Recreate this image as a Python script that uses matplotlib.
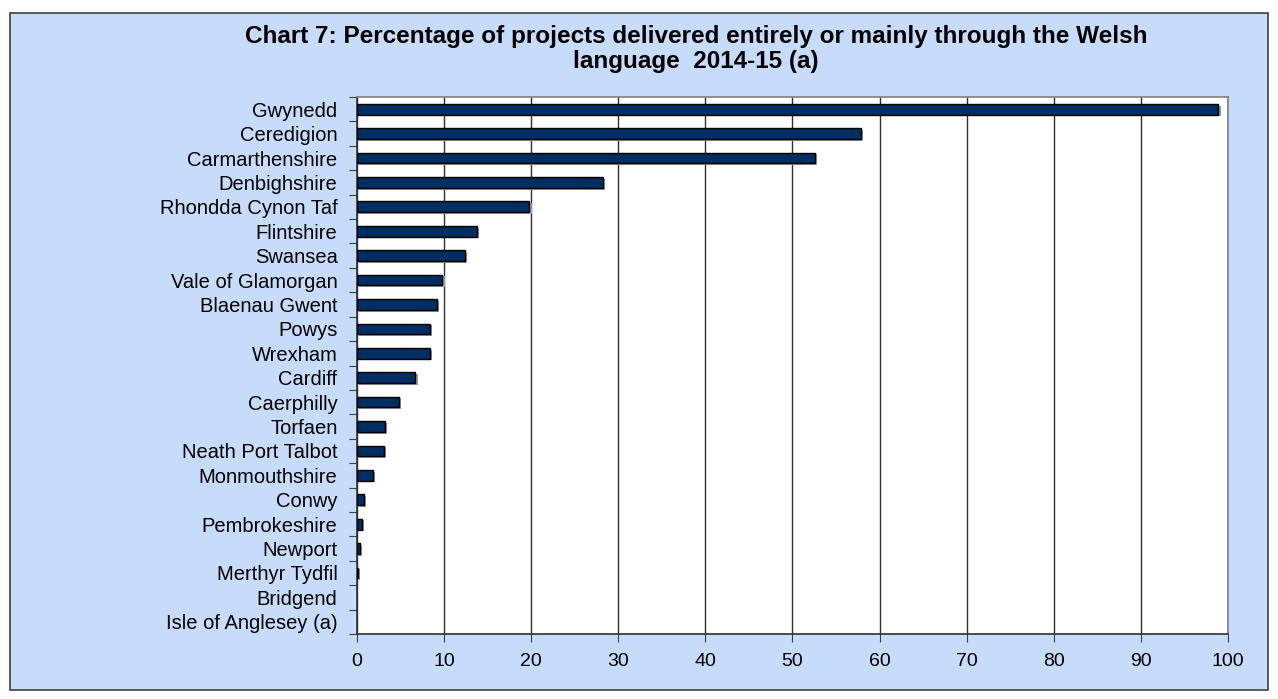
import matplotlib
matplotlib.use("Agg")
import matplotlib.pyplot as plt
from matplotlib.patches import Rectangle

plt.rcParams['font.family'] = ['Liberation Sans', 'DejaVu Sans']

categories = ["Gwynedd", "Ceredigion", "Carmarthenshire", "Denbighshire", "Rhondda Cynon Taf",
              "Flintshire", "Swansea", "Vale of Glamorgan", "Blaenau Gwent", "Powys", "Wrexham",
              "Cardiff", "Caerphilly", "Torfaen", "Neath Port Talbot", "Monmouthshire", "Conwy",
              "Pembrokeshire", "Newport", "Merthyr Tydfil", "Bridgend", "Isle of Anglesey (a)"]
values = [98.9, 57.9, 52.6, 28.2, 19.8, 13.8, 12.4, 9.8, 9.2, 8.4, 8.4,
          6.7, 4.8, 3.2, 3.1, 1.8, 0.8, 0.6, 0.3, 0.15, 0.0, 0.0]
xticks = list(range(0, 101, 10))
title = "Chart 7: Percentage of projects delivered entirely or mainly through the Welsh\nlanguage  2014-15 (a)"

W, H = 1278, 699
fig = plt.figure(figsize=(W / 100, H / 100), dpi=100)
fig.patch.set_facecolor("white")
bg = "#C6DCFA"
fig.patches.append(Rectangle((10 / W, 1 - 690 / H), 1258 / W, 677 / H, transform=fig.transFigure,
                             facecolor=bg, edgecolor="#404040", linewidth=1.2, zorder=-10))

left, right, top, bottom = 357, 1228, 97, 634
ax = fig.add_axes([left / W, 1 - bottom / H, (right - left) / W, (bottom - top) / H])
ax.set_facecolor("white")

n = len(categories)
ypos = list(range(n))
edges = ["black" if v > 0 else "none" for v in values]
# shadow
ax.barh([y + 0.07 for y in ypos], values, left=0.25, height=0.44,
        color=["#9a9a9a" if v > 0 else "none" for v in values], zorder=2)
ax.barh(ypos, values, height=0.44, color="#002D62", edgecolor=edges, linewidth=1.0, zorder=3)
ax.set_ylim(n - 0.5, -0.5)
ax.set_xlim(0, 100)
ax.set_xticks(xticks)
ax.set_yticks([y - 0.5 for y in ypos] + [n - 0.5], minor=False)
ax.set_yticklabels([""] * (n + 1))
ax.set_yticks(ypos, minor=True)
ax.set_yticklabels(categories, minor=True, fontsize=14.5)
ax.tick_params(axis="y", which="minor", length=0, pad=14)
ax.tick_params(axis="y", which="major", length=6, direction="out", color="#404040")
ax.tick_params(axis="x", labelsize=14, length=6, direction="out", color="#404040", pad=8)
ax.grid(axis="x", color="#303030", linewidth=1.0, zorder=1)
for s in ax.spines.values():
    s.set_color("#808080")
    s.set_linewidth(1.2)
ax.spines["left"].set_color("#303030")
ax.spines["bottom"].set_color("#303030")

fig.text(696 / W, 1 - 49 / H, title, ha="center", va="center", fontsize=17.5, fontweight="bold",
         linespacing=1.12)

fig.savefig("out.png", dpi=100, facecolor=fig.get_facecolor())
